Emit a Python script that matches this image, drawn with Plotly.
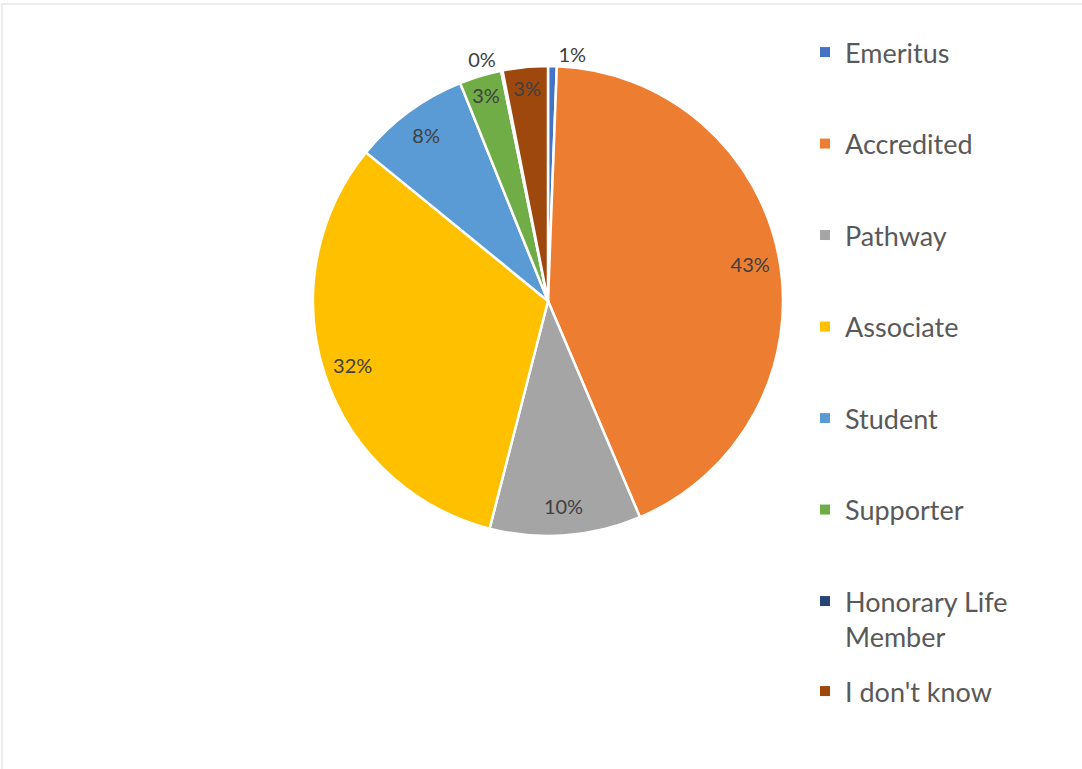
import plotly.graph_objects as go

# Membership categories and their share of respondents (%)
categories = ["Emeritus", "Accredited", "Pathway", "Associate", "Student",
              "Supporter", "Honorary Life Member", "I don't know"]
shares = [0.6, 43.0, 10.4, 31.9, 8.0, 2.9, 0.1, 3.1]
colors = ["#4472C4", "#ED7D31", "#A5A5A5", "#FFC000", "#5B9BD5",
          "#70AD47", "#264478", "#9E480E"]
legend_names = ["Emeritus", "Accredited", "Pathway", "Associate", "Student",
                "Supporter", "Honorary Life<br>Member", "I don't know"]

W, H = 1082, 769
FONT = "Lato, 'Open Sans', sans-serif"
pie_domain = dict(x=[313 / W, 783 / W], y=[1 - 536 / H, 1 - 66 / H])

# Solid pie with white separators
fig = go.Figure()
fig.add_trace(go.Pie(
    labels=categories,
    values=shares,
    sort=False,
    direction="clockwise",
    rotation=0,
    marker=dict(colors=colors, line=dict(color="white", width=2.5)),
    textinfo="none",
    showlegend=False,
    hoverinfo="label+percent",
    domain=pie_domain,
))

# Transparent ring on top carries the percentage labels near the rim
text_pos = ["outside" if v < 1 else "inside" for v in shares]
fig.add_trace(go.Pie(
    labels=categories,
    values=shares,
    sort=False,
    direction="clockwise",
    rotation=0,
    hole=0.75,
    marker=dict(colors=["rgba(0,0,0,0)"] * len(shares),
                line=dict(width=0)),
    texttemplate="%{percent:.0%}",
    textposition=text_pos,
    insidetextorientation="horizontal",
    textfont=dict(family=FONT, size=20, color="#404040"),
    showlegend=False,
    hoverinfo="skip",
    domain=pie_domain,
))

# Legend entries: one group per category so they can be spaced apart
for i, (name, col) in enumerate(zip(legend_names, colors)):
    fig.add_trace(go.Scatter(
        x=[None], y=[None], mode="markers", name=name, legendgroup=name,
        marker=dict(symbol="square", size=10, color=col),
        showlegend=True, hoverinfo="skip",
        legend="legend2" if i == len(colors) - 1 else "legend",
    ))

legend_style = dict(
    xanchor="left", yanchor="top",
    font=dict(family=FONT, size=27, color="#595959"),
    traceorder="grouped", valign="top",
    bgcolor="rgba(0,0,0,0)",
)

fig.update_layout(
    width=W, height=H,
    margin=dict(l=0, r=0, t=0, b=0),
    paper_bgcolor="white", plot_bgcolor="white",
    xaxis=dict(visible=False), yaxis=dict(visible=False),
    legend=dict(x=805 / W, y=1 - 28 / H, tracegroupgap=53.4, **legend_style),
    legend2=dict(x=805 / W, y=1 - 667 / H, **legend_style),
    shapes=[dict(type="rect", xref="paper", yref="paper",
                 x0=2 / W, x1=1.02, y0=-0.02, y1=1 - 4 / H,
                 line=dict(color="#D9D9D9", width=1), fillcolor="rgba(0,0,0,0)",
                 layer="below")],
)

fig.write_html("out.html")
